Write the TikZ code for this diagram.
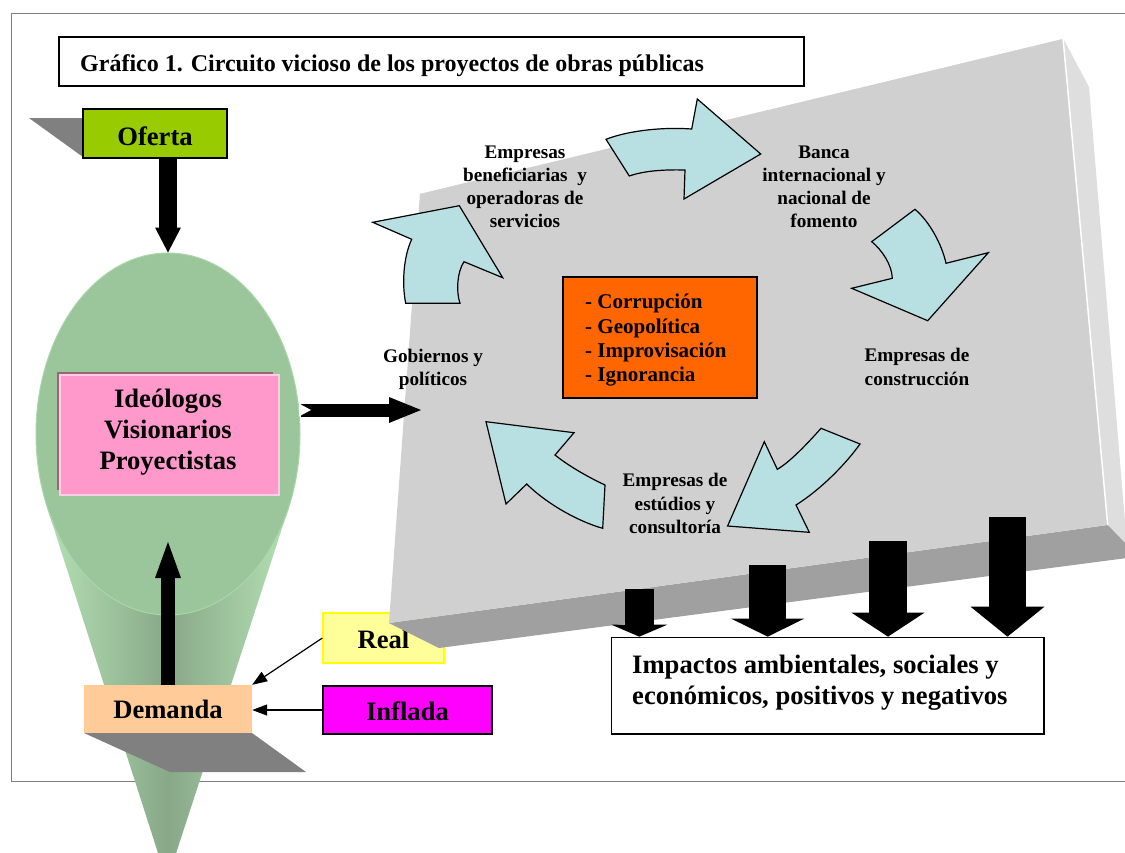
\documentclass[tikz,border=0pt]{standalone}
\usepackage{fontspec}
\setmainfont{Liberation Serif}
\usetikzlibrary{arrows.meta,shapes.geometric}
\definecolor{slabfront}{HTML}{D0D0D0}
\definecolor{slabside}{HTML}{DEDEDE}
\definecolor{slabbottom}{HTML}{A0A0A0}
\definecolor{cyc}{HTML}{B8DFE2}
\definecolor{ellgreen}{HTML}{9BC59B}
\definecolor{ellline}{HTML}{AAD6AA}
\definecolor{conelight}{HTML}{B4E0B4}
\definecolor{conedark}{HTML}{88A888}
\definecolor{ofertacol}{HTML}{99CC00}
\definecolor{demandacol}{HTML}{FFCC99}
\definecolor{realcol}{HTML}{FFFF99}
\definecolor{realline}{HTML}{FFFF00}
\definecolor{infladacol}{HTML}{FF00FF}
\definecolor{pinkbox}{HTML}{FF99CC}
\definecolor{pinkdark}{HTML}{996677}
\definecolor{pinklight}{HTML}{FFCCE6}
\definecolor{orangebox}{HTML}{FF6600}
\definecolor{shadowgray}{HTML}{808080}
\definecolor{framegray}{HTML}{7F7F7F}
\tikzset{
  boxbase/.style={rectangle, inner sep=0pt},
  smalltxt/.style={font=\fontsize{19.2}{23}\selectfont\bfseries, anchor=base, inner sep=0pt},
  bigtxt/.style={font=\fontsize{26.6}{31}\selectfont\bfseries, anchor=base, inner sep=0pt},
  bigfont/.style={font=\fontsize{26.6}{31}\selectfont\bfseries},
  listtxt/.style={font=\fontsize{21}{25}\selectfont\bfseries, anchor=base west, inner sep=0pt},
  imptxt/.style={font=\fontsize{26.6}{31}\selectfont\bfseries, anchor=base west, inner sep=0pt},
  cycarrow/.style={fill=cyc, draw=black, line width=1.2pt, line join=miter},
  thinarrow/.style={line width=1.2pt, -{Triangle[length=15pt,width=11pt]}},
}
\begin{document}
\begin{tikzpicture}[x=1pt,y=-1pt]
\useasboundingbox (0,0) rectangle (1125,852);
% outer frame
\draw[framegray, line width=1pt] (11,13) rectangle (1140,781);
% title
\node[boxbase, draw=black, line width=1.5pt, fill=white, minimum width=745pt, minimum height=49pt] (titlebox) at (431.5,61.5) {};
\node[font=\fontsize{24}{28}\selectfont\bfseries, anchor=base west, inner sep=0pt] (title) at (80,71.5) {Gráfico 1. Circuito vicioso de los proyectos de obras públicas};
% Real box (partly under the slab)
\node[boxbase, draw=realline, line width=1.3pt, fill=realcol, minimum width=121pt, minimum height=50pt, bigfont, text height=20.6pt, text depth=0pt] (real) at (383.5,638) {Real};
% slab
\fill[slabside] (1063,38) -- (1089,87) -- (1127,546) -- (1107.7,525) -- cycle;
\fill[slabbottom] (389,623) -- (1107.7,525) -- (1127,545) -- (1127,558) -- (439,648) -- cycle;
\fill[slabfront] (420,193) -- (1063,38) -- (1107.7,525) -- (389,623) -- cycle;
\draw[white, line width=1.5pt] (420,193) -- (1063,38) -- (1107.7,525);
% cycle arrows
\filldraw[cycarrow] (405.7,303.3) .. controls (402,285) and (403,258) .. (411.7,239.3) -- (372.7,222.3) -- (459.3,205.7) -- (502.7,277.7) -- (464,261.7) .. controls (457,272) and (456,292) .. (460,303.3) -- cycle;
\filldraw[cycarrow] (606,139.3) .. controls (630,130) and (665,127) .. (691.7,129) -- (697.3,99) -- (760.7,154) -- (684,199) -- (685,170) .. controls (665,169.5) and (645,170.5) .. (629.3,176) -- cycle;
\filldraw[cycarrow] (871.7,241.7) -- (915,209.3) .. controls (930,222) and (942,245) .. (946,263.3) -- (988.3,252.7) -- (927.7,320.7) -- (851.7,288.3) -- (892.3,278.3) .. controls (892,265) and (882,250) .. (871.7,241.7) -- cycle;
\filldraw[cycarrow] (821,428.3) -- (860,444) .. controls (845,465) and (820,490) .. (796,505) -- (809.3,532.3) -- (727.6,526) -- (764.3,441.7) -- (777.3,469.3) .. controls (790,462) and (808,443) .. (821,428.3) -- cycle;
\filldraw[cycarrow] (486,421.7) -- (574,432.7) -- (555,455) .. controls (570,467) and (590,478) .. (605,485) -- (602.7,528.3) .. controls (580,522) and (548,505) .. (526.7,484) -- (506,504) -- cycle;
% cycle labels
\node[smalltxt] (eb1) at (525,158.5) {Empresas};
\node[smalltxt] (eb2) at (525,181.5) {beneficiarias\ \ y};
\node[smalltxt] (eb3) at (525,204.5) {operadoras de};
\node[smalltxt] (eb4) at (525,227.5) {servicios};
\node[smalltxt] (bk1) at (824,158.5) {Banca};
\node[smalltxt] (bk2) at (824,181.5) {internacional y};
\node[smalltxt] (bk3) at (824,204.5) {nacional de};
\node[smalltxt] (bk4) at (824,227.5) {fomento};
\node[smalltxt] (ec1) at (917,361.7) {Empresas de};
\node[smalltxt] (ec2) at (917,385) {construcción};
\node[smalltxt] (es1) at (675,486.7) {Empresas de};
\node[smalltxt] (es2) at (675,510) {estúdios y};
\node[smalltxt] (es3) at (675,533.3) {consultoría};
\node[smalltxt] (gb1) at (433,362.5) {Gobiernos y};
\node[smalltxt] (gb2) at (433,385) {políticos};
% central orange box
\node[boxbase, draw=black, line width=1.3pt, fill=orangebox, minimum width=194pt, minimum height=121pt] (risk) at (660,337.5) {};
\node[listtxt] (r1) at (585,308.3) {- Corrupción};
\node[listtxt] (r2) at (585,333) {- Geopolítica};
\node[listtxt] (r3) at (585,357) {- Improvisación};
\node[listtxt] (r4) at (585,381.7) {- Ignorancia};
% impacts box and arrows
\node[boxbase, draw=black, line width=1.3pt, fill=white, minimum width=432.5pt, minimum height=96.7pt] (imp) at (827.75,685.65) {};
\node[imptxt] (imp1) at (632,673.3) {Impactos ambientales, sociales y};
\node[imptxt] (imp2) at (632,704) {económicos, positivos y negativos};
\coordinate (d1) at (639.3,589);
\coordinate (d2) at (767.7,565);
\coordinate (d3) at (888,541);
\coordinate (d4) at (1007.5,517);
\draw[line width=29pt, -{Triangle[width=56pt,length=12pt,line width=0pt]}] (d1) -- (d1 |- imp.north);
\draw[line width=37pt, -{Triangle[width=73pt,length=18pt,line width=0pt]}] (d2) -- (d2 |- imp.north);
\draw[line width=37.5pt, -{Triangle[width=73pt,length=24pt,line width=0pt]}] (d3) -- (d3 |- imp.north);
\draw[line width=37pt, -{Triangle[width=74pt,length=30pt,line width=0pt]}] (d4) -- (d4 |- imp.north);
% cone and ellipse
\shade[left color=conelight, right color=conelight, middle color=conedark] (47,507) -- (289,507) -- (167,881) -- cycle;
\node[ellipse, fill=ellgreen, draw=ellline, line width=1pt, minimum width=264pt, minimum height=362pt, inner sep=0pt] (ell) at (168,434) {};
% Oferta
\fill[shadowgray] (29,118) -- (83,118) -- (83,157) -- cycle;
\node[boxbase, draw=black, line width=1.3pt, fill=ofertacol, minimum width=144pt, minimum height=49pt, bigfont, text height=23pt, text depth=0pt] (oferta) at (155,133.5) {Oferta};
\draw[line width=18pt, -{Triangle[width=26pt,length=25pt,line width=0pt]}] (ell.north |- oferta.south) -- (ell.north);
% Ideologos box
\fill[pinkdark] (57,372) rectangle (273,490);
\node[boxbase, draw=pinklight, line width=1.2pt, fill=pinkbox, minimum width=219pt, minimum height=120pt] (ideo) at (169.5,435) {};
\node[bigtxt] (id1) at (168,407.3) {Ideólogos};
\node[bigtxt] (id2) at (168,438.3) {Visionarios};
\node[bigtxt] (id3) at (168,469.3) {Proyectistas};
\coordinate (gobIn) at (421,410);
\draw[line width=13pt, -{Triangle[width=26pt,length=32pt,line width=0pt]}] (ell.east |- gobIn) -- (gobIn);
\fill[white] (299,403.5) -- (311,410) -- (299,416.5) -- cycle;
% Demanda
\fill[shadowgray] (84,733) -- (252,733) -- (306,772) -- (170,772) -- cycle;
\node[boxbase, fill=demandacol, minimum width=168pt, minimum height=48pt, bigfont, text height=18.6pt, text depth=0pt] (dem) at (168,709) {Demanda};
\coordinate (upTip) at (168,542);
\draw[line width=14pt, -{Triangle[width=26pt,length=36pt,line width=0pt]}] (dem.north) -- (upTip);
\node[boxbase, draw=black, line width=1.3pt, fill=infladacol, minimum width=169pt, minimum height=48pt, bigfont, text height=20pt, text depth=0pt] (inf) at (407.5,710) {Inflada};
\draw[thinarrow] (real.west) -- (dem.north east);
\draw[thinarrow] (inf.west) -- (dem.east |- inf.west);
\end{tikzpicture}
\end{document}
